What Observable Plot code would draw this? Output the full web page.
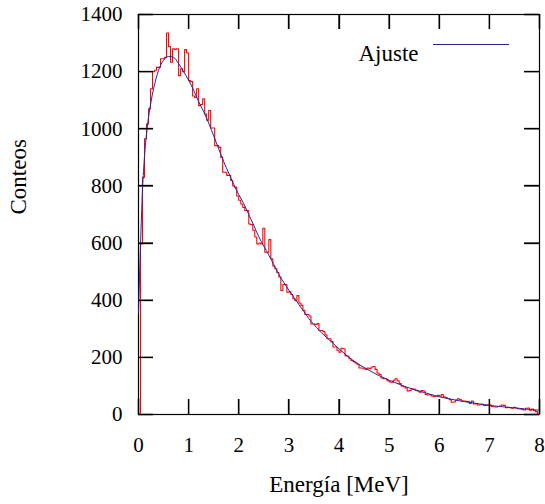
<!DOCTYPE html>
<html>
<head>
<meta charset="utf-8">
<script src="https://cdn.jsdelivr.net/npm/d3@7"></script>
<script src="https://cdn.jsdelivr.net/npm/@observablehq/plot@0.6"></script>
<style>
  html, body { margin: 0; padding: 0; background: #fff; }
  #chart { width: 545px; height: 504px; }
</style>
</head>
<body>
<div id="chart"></div>
<script>
// ---- data ----
const binStart = 0;
const binWidth = 0.04; // MeV
const counts = [
  0, 597, 830, 965, 1017, 1070, 1140, 1200, 1205, 1215,
  1215, 1245, 1245, 1250, 1335, 1288, 1233, 1280, 1278, 1280,
  1186, 1210, 1200, 1277, 1265, 1169, 1165, 1115, 1110, 1140,
  1081, 1085, 1105, 1052, 1030, 1064, 1003, 1003, 941, 941,
  935, 900, 848, 848, 837, 837, 819, 800, 795, 765,
  750, 737, 725, 714, 714, 667, 665, 645, 621, 597,
  600, 597, 652, 568, 568, 612, 545, 520, 510, 497,
  481, 434, 455, 455, 428, 430, 420, 405, 398, 416,
  390, 382, 365, 350, 350, 345, 317, 317, 315, 318,
  294, 294, 290, 278, 265, 265, 255, 236, 236, 225,
  218, 232, 230, 206, 204, 195, 189, 185, 180, 176,
  163, 163, 160, 158, 163, 160, 166, 168, 158, 145,
  140, 128, 125, 125, 118, 114, 113, 120, 125, 118,
  108, 100, 97, 93, 82, 84, 90, 89, 85, 82,
  78, 84, 82, 70, 68, 69, 65, 62, 65, 67,
  64, 70, 62, 59, 56, 52, 43, 44, 50, 55,
  52, 48, 47, 46, 45, 39, 47, 37, 38, 33,
  34, 36, 32, 32, 34, 33, 28, 27, 26, 28,
  30, 33, 32, 24, 25, 24, 22, 25, 23, 20,
  19, 18, 16, 22, 23, 15, 19, 14, 10, 0
];
const fitEnergy = [
  0, 0.02, 0.04, 0.06, 0.08, 0.1, 0.125, 0.15, 0.175, 0.2, 0.25, 0.3, 0.35, 0.4,
  0.5, 0.6, 0.7, 0.8, 0.9, 1.0, 1.1, 1.2, 1.3, 1.4, 1.5, 1.6, 1.7, 1.8, 1.9,
  2.0, 2.1, 2.2, 2.3, 2.4, 2.5, 2.6, 2.7, 2.8, 2.9,
  3.0, 3.1, 3.2, 3.3, 3.4, 3.5, 3.6, 3.7, 3.8, 3.9,
  4.0, 4.1, 4.2, 4.3, 4.4, 4.5, 4.6, 4.7, 4.8, 4.9,
  5.0, 5.1, 5.2, 5.3, 5.4, 5.5, 5.6, 5.7, 5.8, 5.9,
  6.0, 6.1, 6.2, 6.3, 6.4, 6.5, 6.6, 6.7, 6.8, 6.9,
  7.0, 7.1, 7.2, 7.3, 7.4, 7.5, 7.6, 7.7, 7.8, 7.9, 8.0
];
const fitCounts = [
  355, 480, 595, 695, 790, 850, 915, 965, 1005, 1040, 1095, 1140, 1175, 1205,
  1240, 1253, 1250, 1228, 1200, 1170, 1135, 1095, 1060, 1020, 975, 930, 885, 845, 805,
  770, 738, 700, 662, 622, 589, 558, 524, 490, 462,
  435, 410, 385, 360, 335, 315, 295, 278, 262, 246,
  230, 215, 200, 187, 175, 165, 155, 145, 136, 128,
  120, 113, 106, 99, 93, 87, 82, 77, 72, 67,
  62, 58.5, 55, 51.5, 48, 45, 42.5, 40, 37, 34.5,
  32, 30, 28, 26.5, 24.5, 23, 21.5, 19.5, 18, 16.5, 15
];
const xTicks = [0, 1, 2, 3, 4, 5, 6, 7, 8];
const yTicks = [0, 200, 400, 600, 800, 1000, 1200, 1400];
const legendLabel = "Ajuste";
const xLabel = "Energía [MeV]";
const yLabel = "Conteos";
const histColor = "#ff0000";
const fitColor = "#2424a0";

// ---- tables built from the arrays ----
const hist = counts.map((c, i) => ({e: binStart + i * binWidth, c}));
hist.push({e: binStart + counts.length * binWidth, c: counts[counts.length - 1]});
const fit = fitEnergy.map((e, i) => ({e, c: fitCounts[i]}));

const serif = "Liberation Serif";
const tickFont = 21;
const labelFont = 23;
const tickLen = 15;
const W = 545, H = 504, ML = 138, MR = 6, MT = 14, MB = 90;
const frameW = W - ML - MR, frameH = H - MT - MB;
const tickStyle = {stroke: "black", strokeWidth: 1.3};

const chart = Plot.plot({
  width: W, height: H,
  marginLeft: ML, marginRight: MR, marginTop: MT, marginBottom: MB,
  style: {fontFamily: serif, fontSize: tickFont + "px"},
  x: {domain: [xTicks[0], xTicks[xTicks.length - 1]]},
  y: {domain: [yTicks[0], yTicks[yTicks.length - 1]]},
  marks: [
    // tick labels
    Plot.axisX(xTicks, {anchor: "bottom", tickSize: 0, tickPadding: 23, label: null, tickFormat: d => String(d)}),
    Plot.axisY(yTicks, {anchor: "left", tickSize: 0, tickPadding: 16, label: null, tickFormat: d => String(d)}),
    // inward ticks on all four sides
    Plot.ruleX(xTicks, {x: d => d, insetTop: frameH - tickLen, ...tickStyle}),
    Plot.ruleX(xTicks, {x: d => d, insetBottom: frameH - tickLen, ...tickStyle}),
    Plot.ruleY(yTicks, {y: d => d, insetRight: frameW - tickLen, ...tickStyle}),
    Plot.ruleY(yTicks, {y: d => d, insetLeft: frameW - tickLen, ...tickStyle}),
    Plot.frame({stroke: "black", strokeWidth: 1.2}),
    // data
    Plot.line(hist, {x: "e", y: "c", curve: "step-after", stroke: histColor, strokeWidth: 1.1}),
    Plot.line(fit, {x: "e", y: "c", curve: "monotone-x", stroke: fitColor, strokeWidth: 1}),
    // axis titles
    Plot.text([yLabel], {text: d => d, frameAnchor: "left", dx: -120, rotate: -90, fontSize: labelFont}),
    Plot.text([xLabel], {text: d => d, frameAnchor: "bottom", dy: 77, fontSize: labelFont}),
    // legend
    Plot.text([legendLabel], {text: d => d, frameAnchor: "top-right", dx: -121, dy: 30, textAnchor: "end", fontSize: labelFont}),
    Plot.tickY([yTicks[yTicks.length - 1]], {y: d => d, dy: 30, insetLeft: 295, insetRight: 30, stroke: fitColor, strokeWidth: 1})
  ]
});
document.getElementById("chart").appendChild(chart);

// extra safety: also draw the inward ticks with the plot's own scales
const sx = chart.scale("x"), sy = chart.scale("y");
const svg = d3.select(chart);
const g = svg.append("g").attr("stroke", "black").attr("stroke-width", 1.3);
const x0 = ML, x1 = W - MR, y0 = MT, y1 = H - MB;
for (const t of xTicks) {
  const px = Math.round(sx.apply(t)) + 0.5;
  g.append("line").attr("x1", px).attr("x2", px).attr("y1", y1).attr("y2", y1 - tickLen);
  g.append("line").attr("x1", px).attr("x2", px).attr("y1", y0).attr("y2", y0 + tickLen);
}
for (const t of yTicks) {
  const py = Math.round(sy.apply(t)) + 0.5;
  g.append("line").attr("x1", x0).attr("x2", x0 + tickLen).attr("y1", py).attr("y2", py);
  g.append("line").attr("x1", x1).attr("x2", x1 - tickLen).attr("y1", py).attr("y2", py);
}
</script>
</body>
</html>
